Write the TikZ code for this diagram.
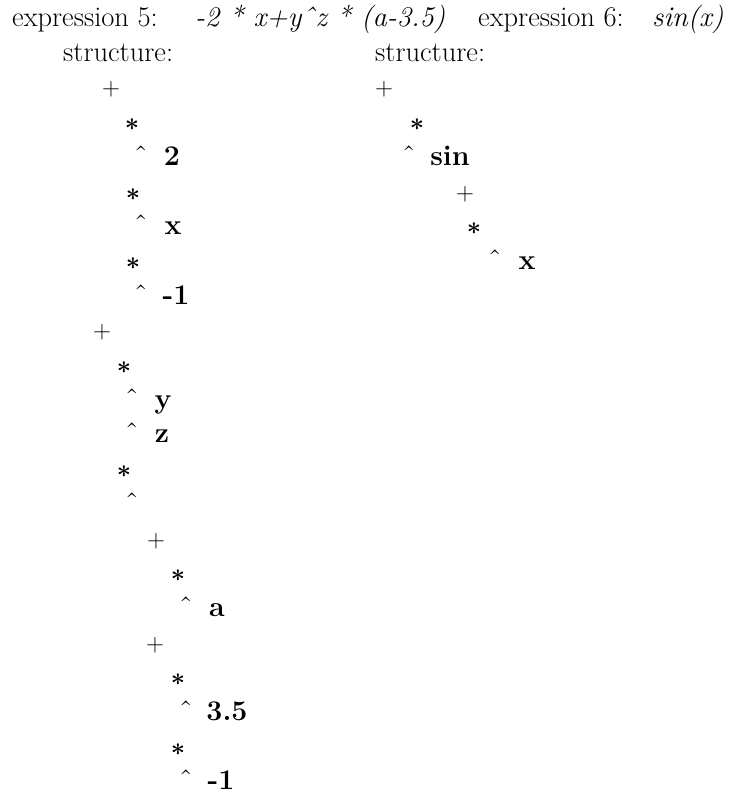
\documentclass[tikz,border=0pt]{standalone}
\newcommand\bigfs{\fontsize{28.5}{34}\selectfont}
\tikzset{
  txt/.style={anchor=base west, inner sep=0pt, font=\bigfs},
  expr/.style={anchor=base west, inner sep=0pt, font=\bigfs\itshape},
  op/.style={anchor=base, inner sep=0pt, font=\bigfs},
  hat/.style={anchor=base, inner sep=0pt, font=\bigfs},
  val/.style={anchor=base, inner sep=0pt, font=\bigfs\bfseries},
}
\newcommand\plusop{$+$}
\newcommand\timesop{{\boldmath$\ast$}}
\newcommand\hatop{\symbol{"02C6}}
\begin{document}
\begin{tikzpicture}
\useasboundingbox (0pt,0pt) rectangle (734pt,-795pt);
% one text line per unit of y; line 0 is the heading
\begin{scope}[x=1pt, y=-34.7pt, yshift=-26.5pt]
  \node[txt]  (h5)  at (12,0)  {expression 5:};
  \node[expr] (e5)  at (195,0) {-2 * x+y\hatop z * (a-3.5)};
  \node[txt]  (h6)  at (478,0) {expression 6:};
  \node[expr] (e6)  at (652,0) {sin(x)};
  \node[txt]  (s5)  at (63,1)  {structure:};
  \node[txt]  (s6)  at (375,1) {structure:};

  % structure of expression 5
  \node[op]  (a1)  at (111,2)  {\plusop};
  \node[op]  (a2)  at (132,3)  {\timesop};
  \node[hat] (a3)  at (141,4)  {\hatop};
  \node[val] (a3v) at (172,4)  {2};
  \node[op]  (a4)  at (133,5)  {\timesop};
  \node[hat] (a5)  at (141,6)  {\hatop};
  \node[val] (a5v) at (173,6)  {x};
  \node[op]  (a6)  at (133,7)  {\timesop};
  \node[hat] (a7)  at (141,8)  {\hatop};
  \node[val] (a7v) at (176,8)  {-1};
  \node[op]  (b1)  at (102,9)  {\plusop};
  \node[op]  (b2)  at (124,10) {\timesop};
  \node[hat] (b3)  at (132,11) {\hatop};
  \node[val] (b3v) at (163,11) {y};
  \node[hat] (b4)  at (132,12) {\hatop};
  \node[val] (b4v) at (162,12) {z};
  \node[op]  (b5)  at (124,13) {\timesop};
  \node[hat] (b6)  at (132,14) {\hatop};
  \node[op]  (c1)  at (156,15) {\plusop};
  \node[op]  (c2)  at (178,16) {\timesop};
  \node[hat] (c3)  at (186,17) {\hatop};
  \node[val] (c3v) at (217,17) {a};
  \node[op]  (c4)  at (155,18) {\plusop};
  \node[op]  (c5)  at (178,19) {\timesop};
  \node[hat] (c6)  at (186,20) {\hatop};
  \node[val] (c6v) at (227,20) {3.5};
  \node[op]  (c7)  at (178,21) {\timesop};
  \node[hat] (c8)  at (186,22) {\hatop};
  \node[val] (c8v) at (221,22) {-1};

  % structure of expression 6
  \node[op]  (d1)  at (384,2)  {\plusop};
  \node[op]  (d2)  at (417,3)  {\timesop};
  \node[hat] (d3)  at (409,4)  {\hatop};
  \node[val] (d3v) at (450,4)  {sin};
  \node[op]  (d4)  at (465,5)  {\plusop};
  \node[op]  (d5)  at (474,6)  {\timesop};
  \node[hat] (d6)  at (495,7)  {\hatop};
  \node[val] (d6v) at (527,7)  {x};
\end{scope}
\end{tikzpicture}
\end{document}
